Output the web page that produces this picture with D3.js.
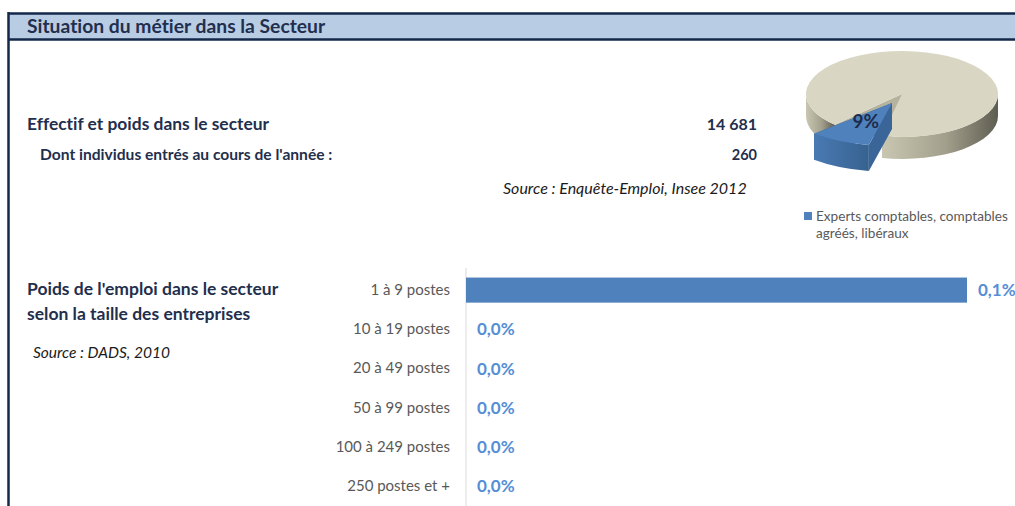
<!DOCTYPE html>
<html>
<head>
<meta charset="utf-8">
<script src="https://cdn.jsdelivr.net/npm/d3@7"></script>
<style>
  body { margin: 0; background: #fff; }
  svg { display: block; font-family: Lato, "Open Sans", sans-serif; font-variant-ligatures: none; }
</style>
</head>
<body>
<svg id="chart" width="1015" height="506"></svg>
<script>
// --- data ---
var effectif = "14 681"
var entres = "260"
var pieLabels = ["Experts comptables, comptables agréés, libéraux", "Autres"]
var pieValues = [9, 91]
var categories = ["1 à 9 postes", "10 à 19 postes", "20 à 49 postes", "50 à 99 postes", "100 à 249 postes", "250 postes et +"]
var poids = [0.1, 0.0, 0.0, 0.0, 0.0, 0.0]

var svg = d3.select('#chart')
var navy = '#1f2f4d'

// header band
svg.append('rect').attr('x', 8).attr('y', 13).attr('width', 1007).attr('height', 26)
  .attr('fill', '#b8cce4')
svg.append('line').attr('x1', 8).attr('x2', 1015).attr('y1', 13.5).attr('y2', 13.5)
  .attr('stroke', '#14284a').attr('stroke-width', 2.5)
svg.append('line').attr('x1', 8).attr('x2', 1015).attr('y1', 39.5).attr('y2', 39.5)
  .attr('stroke', '#14284a').attr('stroke-width', 2.5)
svg.append('line').attr('x1', 8.5).attr('x2', 8.5).attr('y1', 12).attr('y2', 506)
  .attr('stroke', '#14284a').attr('stroke-width', 2.5)
svg.append('text').attr('x', 27).attr('y', 33).text('Situation du métier dans la Secteur')
  .attr('font-size', 19.3).attr('font-weight', 'bold').attr('fill', navy)

// texts
function txt(x, y, s, size, opts){
  opts = opts || {}
  return svg.append('text').attr('x', x).attr('y', y).text(s)
    .attr('font-size', size)
    .attr('font-weight', opts.bold ? 'bold' : 'normal')
    .attr('font-style', opts.italic ? 'italic' : 'normal')
    .attr('text-anchor', opts.anchor || 'start')
    .attr('fill', opts.fill || navy)
}
txt(27, 130, 'Effectif et poids dans le secteur', 17.4, {bold: true})
txt(40, 160, "Dont individus entrés au cours de l'année :", 15.6, {bold: true})
txt(757, 130, effectif, 16, {bold: true, anchor: 'end'})
txt(757, 160, entres, 14.5, {bold: true, anchor: 'end'})
txt(503, 194, 'Source : Enquête-Emploi, Insee 2012', 16, {italic: true, fill: '#1a1a1a'})
txt(27, 295, "Poids de l'emploi dans le secteur", 17.5, {bold: true})
txt(27, 320, 'selon la taille des entreprises', 17.5, {bold: true})
txt(33, 358, 'Source : DADS, 2010', 15.5, {italic: true, fill: '#1a1a1a'})

// --- 3D pie ---
var cx = 902, cy = 94, rx = 96, ry = 43, depth = 22
var defs = svg.append('defs')
var g1 = defs.append('linearGradient').attr('id', 'greySide').attr('x1', 0).attr('x2', 1).attr('y1', 0).attr('y2', 0)
g1.append('stop').attr('offset', '0%').attr('stop-color', '#c9c6b1')
g1.append('stop').attr('offset', '55%').attr('stop-color', '#a29f8c')
g1.append('stop').attr('offset', '100%').attr('stop-color', '#5f5d51')
var g2 = defs.append('linearGradient').attr('id', 'blueSide').attr('x1', 0).attr('x2', 1).attr('y1', 0).attr('y2', 0)
g2.append('stop').attr('offset', '0%').attr('stop-color', '#4a7ab4')
g2.append('stop').attr('offset', '100%').attr('stop-color', '#36628f')

var startA = (102 + 90) * Math.PI / 180
var pie = d3.pie().sort(null).startAngle(startA).endAngle(startA + 2 * Math.PI)
var arcs = pie(pieValues)
var topColors = ['#4f81bd', '#d9d7c4']
var sideFills = ['url(#blueSide)', 'url(#greySide)']
var wallColors = ['#3a6598', '#b5b29e']
// the exploded front slice is drawn a little wider and offset, as Excel's perspective does
var sliceGeom = [
  {dx: -10, dy: 9, sx: 1.16, sy: 1.0, depth: 26},
  {dx: 0, dy: 0, sx: 1, sy: 1, depth: depth}
]

function drawSlice(d, i){
  var geo = sliceGeom[i]
  var a0 = d.startAngle - Math.PI / 2, a1 = d.endAngle - Math.PI / 2
  var c = [cx + geo.dx, cy + geo.dy]
  var erx = rx * geo.sx, ery = ry * geo.sy, dz = geo.depth
  function pt(a){ return [c[0] + erx * Math.cos(a), c[1] + ery * Math.sin(a)] }
  var gs = svg.append('g')
  // radial walls
  ;[a0, a1].forEach(function(a){
    var p = pt(a)
    gs.append('path').attr('d', 'M' + c + 'L' + p + 'L' + [p[0], p[1] + dz] + 'L' + [c[0], c[1] + dz] + 'Z')
      .attr('fill', wallColors[i])
  })
  // outer wall, only where facing the viewer
  for (var k = -1; k <= 2; k++){
    var s = Math.max(a0, 2 * Math.PI * k), e = Math.min(a1, 2 * Math.PI * k + Math.PI)
    if (e <= s) continue
    var ps = pt(s), pe = pt(e)
    var large = (e - s) > Math.PI ? 1 : 0
    gs.append('path').attr('d', 'M' + ps + 'A' + erx + ',' + ery + ' 0 ' + large + ' 1 ' + pe +
      'L' + [pe[0], pe[1] + dz] + 'A' + erx + ',' + ery + ' 0 ' + large + ' 0 ' + [ps[0], ps[1] + dz] + 'Z')
      .attr('fill', sideFills[i])
  }
  // top face
  var p0 = pt(a0), p1 = pt(a1)
  gs.append('path').attr('d', 'M' + c + 'L' + p0 + 'A' + erx + ',' + ery + ' 0 ' + ((a1 - a0) > Math.PI ? 1 : 0) + ' 1 ' + p1 + 'Z')
    .attr('fill', topColors[i])
  return {c: c, rx: erx, ry: ery}
}
drawSlice(arcs[1], 1)
var bs = drawSlice(arcs[0], 0)
var bm = (arcs[0].startAngle + arcs[0].endAngle) / 2 - Math.PI / 2
svg.append('text').attr('x', bs.c[0] + bs.rx * 0.5 * Math.cos(bm)).attr('y', bs.c[1] + bs.ry * 0.5 * Math.sin(bm) + 6)
  .attr('text-anchor', 'middle').attr('font-size', 19).attr('font-weight', 'bold').attr('fill', '#1c2c4a')
  .text(pieValues[0] + '%')

// legend
svg.append('rect').attr('x', 804).attr('y', 212).attr('width', 8).attr('height', 8).attr('fill', topColors[0])
svg.append('text').attr('x', 816).attr('y', 221).attr('font-size', 13.6).attr('fill', '#595959')
  .text('Experts comptables, comptables')
svg.append('text').attr('x', 816).attr('y', 238).attr('font-size', 13.6).attr('fill', '#595959')
  .text('agréés, libéraux')

// --- bar chart ---
var x = d3.scaleLinear().domain([0, 0.1]).range([466, 967])
var y = d3.scaleBand().domain(categories).range([270.5, 505.7]).paddingInner(0.36).paddingOuter(0.18)
var fmt = function(v){ return d3.format('.1f')(v).replace('.', ',') + '%' }

var yAxis = svg.append('g').attr('transform', 'translate(466,0)')
  .call(d3.axisLeft(y).tickSize(0).tickPadding(16))
yAxis.select('.domain').attr('stroke', '#d9d9d9').attr('d', 'M0,268V506')
yAxis.selectAll('.tick text').attr('font-family', 'Lato, sans-serif').attr('font-size', 15).attr('fill', '#595959')

svg.selectAll('.bar').data(poids).enter().append('rect').attr('class', 'bar')
  .attr('x', x(0)).attr('y', function(d, i){ return y(categories[i]) })
  .attr('width', function(d){ return x(d) - x(0) }).attr('height', y.bandwidth())
  .attr('fill', '#4f81bd')
svg.selectAll('.val').data(poids).enter().append('text').attr('class', 'val')
  .attr('x', function(d){ return x(d) + 11 })
  .attr('y', function(d, i){ return y(categories[i]) + y.bandwidth() / 2 + 6 })
  .attr('font-size', 17).attr('font-weight', 'bold').attr('fill', '#558ed5')
  .text(fmt)
</script>
</body>
</html>
